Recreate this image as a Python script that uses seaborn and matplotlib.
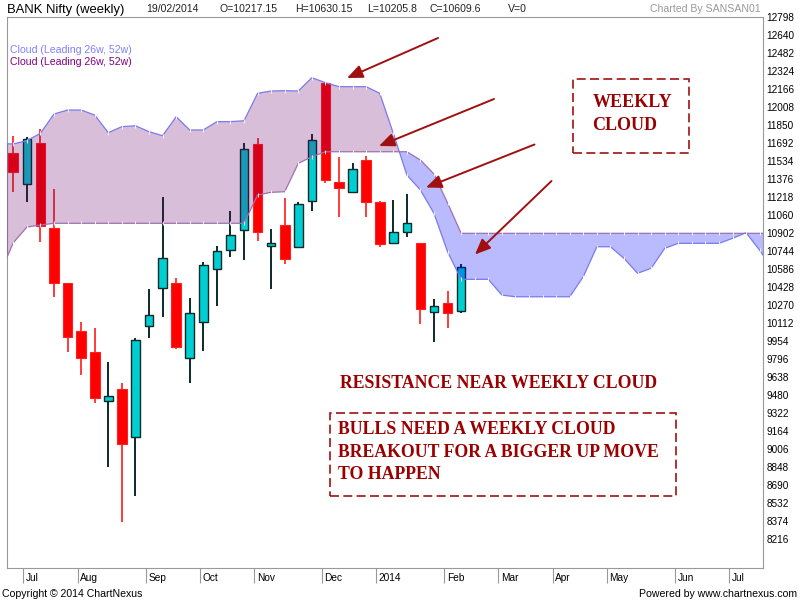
import numpy as np
import pandas as pd
import matplotlib
matplotlib.use("Agg")
import matplotlib.pyplot as plt
import matplotlib.transforms as mtransforms
from matplotlib.patches import Rectangle
import seaborn as sns

# ---------------- data ----------------
week_index = list(range(34))
opens = [11604, 11335, 11692, 10951, 10463, 10044, 9857, 9430, 9538, 9114,
         10091, 10424, 10468, 9805, 10123, 10589, 10755, 10931, 11683, 10793,
         10972, 10784, 11185, 12219, 11355, 11267, 11545, 11179, 10814, 10911,
         10814, 10214, 10287, 10217.15]
highs = [11759, 11745, 11815, 11288, 10470, 10123, 10068, 9770, 9585, 9985,
         10410, 11218, 10507, 10331, 10647, 10790, 11098, 11692, 11736, 10937,
         11212, 11179, 11774, 12228, 11569, 11516, 11580, 11185, 11194, 11244,
         10820, 10323, 10395, 10630.15]
lows = [11267, 11174, 10828, 10345, 9863, 9658, 9415, 8853, 8365, 8599,
        9980, 10170, 9884, 9585, 9871, 10266, 10697, 10668, 10837, 10410,
        10632, 10780, 11100, 11346, 11042, 11262, 11048, 10784, 10805, 10872,
        10103, 9945, 10068, 10205.8]
closes = [11437, 11730, 10969, 10463, 9994, 9810, 9454, 9476, 9052, 9965,
          10185, 10688, 9901, 10205, 10626, 10749, 10887, 11639, 10911, 10819,
          10674, 11159, 11721, 11370, 11297, 11466, 11179, 10805, 10916, 10990,
          10235, 10266, 10205, 10609.6]

cloud_index = list(range(-1, 57))
span_a = [11690, 11686, 11715, 11780, 11949, 11984, 11984, 11940, 11785, 11838,
          11846, 11794, 11759, 11925, 11809, 11809, 11882, 11882, 11890, 12131,
          12151, 12154, 12151, 12268, 12224, 12189, 12189, 12189, 12131, 11780,
          11414, 11282, 11077, 10740, 10498, 10498, 10498, 10360, 10345, 10345,
          10345, 10345, 10345, 10521, 10784, 10784, 10682, 10551, 10595, 10770,
          10814, 10814, 10814, 10814, 10858, 10907, 10753, 10580]
span_b = ([10545, 10819, 10957, 10975] + [10990] * 15 +
          [11238, 11262, 11267, 11516, 11574] + [11618] * 7 +
          [11545, 11422, 11168] + [10902] * 24)

month_labels = ["Jul", "Aug", "Sep", "Oct", "Nov", "Dec", "2014",
                "Feb", "Mar", "Apr", "May", "Jun", "Jul"]
month_week = [0, 4, 9, 13, 17, 22, 26, 31, 35, 39, 43, 48, 52]

y_ticks = [8216, 8374, 8532, 8690, 8848, 9006, 9164, 9322, 9480, 9638,
           9796, 9954, 10112, 10270, 10428, 10586, 10744, 10902, 11060, 11218,
           11376, 11534, 11692, 11850, 12008, 12166, 12324, 12482, 12640, 12798]

# ---------------- figure ----------------
sns.set_theme(style="white")
plt.rcParams['font.family'] = ['Liberation Sans', 'DejaVu Sans']

W, H = 800, 600
fig = plt.figure(figsize=(8, 6), dpi=100, facecolor='white')


def fx(x):
    return x / W


def fy(y):
    return 1 - y / H


L_, R_, T_, B_ = 7, 762.7, 17.3, 567.7
ax = fig.add_axes([fx(L_), fy(B_), (R_ - L_) / W, (B_ - T_) / H])
ax.set_facecolor('white')

df = pd.DataFrame({'week': week_index, 'open': opens, 'high': highs,
                   'low': lows, 'close': closes})
up = df[df['close'] >= df['open']]
dn = df[df['close'] < df['open']]

# wicks
ax.vlines(dn['week'], dn['low'], dn['high'], color='#ff1a1a', lw=1.2, zorder=2)
ax.vlines(up['week'], up['low'], up['high'], color='#0b2a2a', lw=1.4, zorder=2)
# bodies
ax.bar(dn['week'], dn['open'] - dn['close'], bottom=dn['close'], width=0.71,
       color='#ff0000', edgecolor='#ff2020', linewidth=0.8, zorder=3)
ax.bar(up['week'], up['close'] - up['open'], bottom=up['open'], width=0.64,
       color='#00ced1', edgecolor='#0b2a2a', linewidth=1.0, zorder=3)

# cloud
ci = np.array(cloud_index, dtype=float)
a = np.array(span_a, dtype=float)
b = np.array(span_b, dtype=float)
ax.fill_between(ci, a, b, where=a >= b, interpolate=True, color='#660066',
                alpha=0.255, lw=0, zorder=4)
ax.fill_between(ci, a, b, where=a < b, interpolate=True, color='#0000ff',
                alpha=0.27, lw=0, zorder=4)
sns.lineplot(x=ci, y=a, ax=ax, color='#7a7aee', lw=0.9, zorder=5, legend=False,
             marker='|', markersize=2.5, markeredgewidth=0.6)
sns.lineplot(x=ci, y=b, ax=ax, color='#a070b0', lw=0.9, zorder=5, legend=False,
             marker='|', markersize=2.5, markeredgewidth=0.6)

ax.set_xlim(-0.464, 55.22)
ax.set_ylim(7967, 12798)
ax.set_xlabel('')
ax.set_ylabel('')
ax.grid(False)

# y axis on the right
ax.set_yticks(y_ticks)
ax.set_yticklabels([str(v) for v in y_ticks])
ax.yaxis.tick_right()
ax.tick_params(axis='y', left=False, right=True, length=0, pad=2.9,
               labelsize=7.2, labelcolor='black')

# x axis month ticks
ax.set_xticks([w + 0.75 for w in month_week])
ax.set_xticklabels(month_labels)
ax.tick_params(axis='x', bottom=True, length=11, width=0.8, color='#999999',
               direction='out', pad=-7.0, labelsize=7.3, labelcolor='black')
offset = mtransforms.ScaledTranslation(2.5 / 100, 0, fig.dpi_scale_trans)
for lbl in ax.get_xticklabels():
    lbl.set_horizontalalignment('left')
    lbl.set_transform(lbl.get_transform() + offset)

for sp in ax.spines.values():
    sp.set_visible(True)
    sp.set_color('#999999')
    sp.set_linewidth(0.8)

# ---------------- header / footer text ----------------
fig.text(fx(7), fy(12.7), "BANK Nifty (weekly)", fontsize=9.4, va='baseline',
         color='black')
hdr = [(146, "19/02/2014"), (219, "O=10217.15"), (295, "H=10630.15"),
       (367, "L=10205.8"), (430, "C=10609.6"), (508, "V=0")]
for x, t in hdr:
    fig.text(fx(x), fy(12.3), t, fontsize=7.6, va='baseline', color='#222222')
fig.text(fx(761), fy(12.3), "Charted By SANSAN01", fontsize=7.6, va='baseline',
         ha='right', color='#999999')

fig.text(fx(10), fy(53.3), "Cloud (Leading 26w, 52w)", fontsize=7.6,
         va='baseline', color='#8080ff')
fig.text(fx(10), fy(65.3), "Cloud (Leading 26w, 52w)", fontsize=7.6,
         va='baseline', color='#800080')

fig.text(fx(2), fy(597), "Copyright \u00a9 2014 ChartNexus", fontsize=7.6,
         va='baseline', color='black')
fig.text(fx(797), fy(597), "Powered by www.chartnexus.com", fontsize=7.6,
         va='baseline', ha='right', color='black')

# ---------------- annotations ----------------
red = '#a01010'
arrows = [(438, 38, 347, 78), (494, 99, 379, 146),
          (534.5, 144.5, 426, 187.5), (551.5, 181, 475, 254.5)]
for x0, y0, x1, y1 in arrows:
    ax.annotate('', xy=(x1, H - y1), xytext=(x0, H - y0),
                xycoords='figure pixels', textcoords='figure pixels',
                arrowprops=dict(arrowstyle='-|>,head_length=0.94,head_width=0.4',
                                color=red, lw=1.4, mutation_scale=10,
                                shrinkA=0, shrinkB=0),
                annotation_clip=False, zorder=10)

for (x0, y0, x1, y1) in [(573.3, 78.7, 688.7, 153.3), (330, 412.7, 676, 495.5)]:
    fig.add_artist(Rectangle((fx(x0), fy(y1)), (x1 - x0) / W, (y1 - y0) / H,
                             transform=fig.transFigure, fill=False,
                             edgecolor=red, lw=1.2, linestyle=(0, (5.4, 2.6))))

serif = dict(family=['Liberation Serif', 'DejaVu Serif'], weight='bold',
             color='#9b0000', va='baseline', ha='left')
fig.text(fx(592.3), fy(107.3), "WEEKLY", fontsize=13, **serif)
fig.text(fx(592.3), fy(130.5), "CLOUD", fontsize=13, **serif)
fig.text(fx(340), fy(388.3), "RESISTANCE NEAR WEEKLY CLOUD", fontsize=12.8, **serif)
fig.text(fx(338.3), fy(434), "BULLS NEED A WEEKLY CLOUD", fontsize=12.8, **serif)
fig.text(fx(338.3), fy(456.7), "BREAKOUT FOR A BIGGER UP MOVE", fontsize=12.8, **serif)
fig.text(fx(338.3), fy(479.3), "TO HAPPEN", fontsize=12.8, **serif)

fig.savefig("out.png", dpi=100, facecolor='white')
